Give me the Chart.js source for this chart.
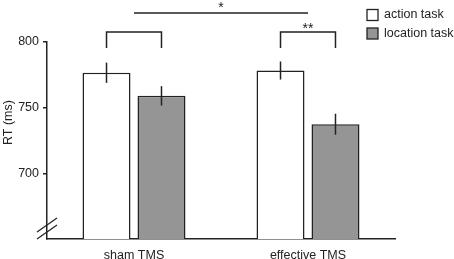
<!DOCTYPE html>
<html>
<head>
<meta charset="utf-8">
<script src="https://cdn.jsdelivr.net/npm/chart.js@4/dist/chart.umd.min.js"></script>
<style>
  html, body { margin: 0; padding: 0; background: #fff; }
  #wrap { width: 454px; height: 259px; }
</style>
</head>
<body>
<div id="wrap"><canvas id="myChart" width="454" height="259"></canvas></div>
<script>
const categories = ['sham TMS', 'effective TMS']
const seriesNames = ['action task', 'location task']
const actionRT = [776.6, 778.3]
const locationRT = [759.0, 737.4]
const actionErr = [7.7, 6.9]
const locationErr = [7.4, 8.0]
const yTicks = [700, 750, 800]

// significance marks (y in ms)
const pairBrackets = [
  { cat: 0, top: 807.6, bottom: 795.4, label: '' },
  { cat: 1, top: 807.6, bottom: 795.4, label: '**' }
]
const crossLine = { from: 0, to: 1, y: 822, label: '*' }

const ink = '#222'
const fontName = '"Liberation Sans", Arial, sans-serif'
const fontSize = 12.5

const extras = {
  id: 'extras',
  afterDatasetsDraw(chart) {
    const ctx = chart.ctx
    const y = chart.scales.y
    const x = chart.scales.x
    const area = chart.chartArea
    const metas = [chart.getDatasetMeta(0), chart.getDatasetMeta(1)]
    const errs = [actionErr, locationErr]
    const vals = [actionRT, locationRT]

    ctx.save()
    ctx.strokeStyle = ink
    ctx.lineWidth = 1.5

    // error bars
    metas.forEach((meta, d) => {
      meta.data.forEach((bar, i) => {
        ctx.beginPath()
        ctx.moveTo(bar.x, y.getPixelForValue(vals[d][i] + errs[d][i]))
        ctx.lineTo(bar.x, y.getPixelForValue(vals[d][i] - errs[d][i]))
        ctx.stroke()
      })
    })

    // brackets
    ctx.font = '14px ' + fontName
    ctx.fillStyle = ink
    ctx.textAlign = 'center'
    ctx.textBaseline = 'alphabetic'
    pairBrackets.forEach(b => {
      const x1 = metas[0].data[b.cat].x
      const x2 = metas[1].data[b.cat].x
      const yt = y.getPixelForValue(b.top)
      const yb = y.getPixelForValue(b.bottom)
      ctx.beginPath()
      ctx.moveTo(x1, yb)
      ctx.lineTo(x1, yt)
      ctx.lineTo(x2, yt)
      ctx.lineTo(x2, yb)
      ctx.stroke()
      if (b.label) ctx.fillText(b.label, (x1 + x2) / 2, yt + 1)
    })

    // long line between conditions
    const lx1 = x.getPixelForValue(crossLine.from)
    const lx2 = x.getPixelForValue(crossLine.to)
    const ly = y.getPixelForValue(crossLine.y)
    ctx.beginPath()
    ctx.moveTo(lx1, ly)
    ctx.lineTo(lx2, ly)
    ctx.stroke()
    ctx.fillText(crossLine.label, (lx1 + lx2) / 2, ly - 1)

    // axis break
    ctx.lineWidth = 1.2
    ;[0, 7].forEach(off => {
      ctx.beginPath()
      ctx.moveTo(area.left - 10, area.bottom - off)
      ctx.lineTo(area.left + 10, area.bottom - off - 14)
      ctx.stroke()
    })

    // y title
    ctx.font = fontSize + 'px ' + fontName
    ctx.save()
    ctx.translate(9, (area.top + area.bottom) / 2 - 18)
    ctx.rotate(-Math.PI / 2)
    ctx.textBaseline = 'middle'
    ctx.fillText('RT (ms)', 0, 0)
    ctx.restore()

    // legend
    const colors = ['#ffffff', '#959595']
    ctx.textAlign = 'left'
    ctx.textBaseline = 'middle'
    seriesNames.forEach((name, i) => {
      const by = 9.5 + i * 18.5
      ctx.fillStyle = colors[i]
      ctx.fillRect(367, by, 11, 11)
      ctx.lineWidth = 1.3
      ctx.strokeRect(367, by, 11, 11)
      ctx.fillStyle = ink
      ctx.fillText(name, 384, by + 5.5)
    })
    ctx.restore()
  }
}

const myChart = new Chart(
  document.getElementById('myChart'),
  {
    type: 'bar',
    data: {
      labels: categories,
      datasets: [
        {
          label: seriesNames[0],
          data: actionRT,
          backgroundColor: '#ffffff',
          borderColor: ink,
          borderWidth: 1.5
        },
        {
          label: seriesNames[1],
          data: locationRT,
          backgroundColor: '#959595',
          borderColor: ink,
          borderWidth: 1.5
        }
      ]
    },
    options: {
      responsive: false,
      animation: false,
      devicePixelRatio: 1,
      categoryPercentage: 0.632,
      barPercentage: 0.873,
      layout: { padding: { left: 0, right: 59, top: 42, bottom: 0 } },
      plugins: {
        legend: { display: false },
        tooltip: { enabled: false }
      },
      scales: {
        x: {
          grid: { display: false },
          border: { display: true, color: ink, width: 1.5 },
          ticks: { color: ink, font: { family: fontName, size: fontSize }, padding: 1 },
          afterFit(scale) { scale.height = 20 }
        },
        y: {
          min: 650,
          max: 800,
          afterBuildTicks(scale) {
            scale.ticks = yTicks.map(v => ({ value: v }))
          },
          grid: { drawOnChartArea: false, drawTicks: true, tickLength: 4, color: ink, lineWidth: 1.5 },
          border: { display: true, color: ink, width: 1.5 },
          ticks: { color: ink, font: { family: fontName, size: fontSize }, padding: 4 },
          afterFit(scale) { scale.width = 47 }
        }
      }
    },
    plugins: [extras]
  }
)
</script>
</body>
</html>
